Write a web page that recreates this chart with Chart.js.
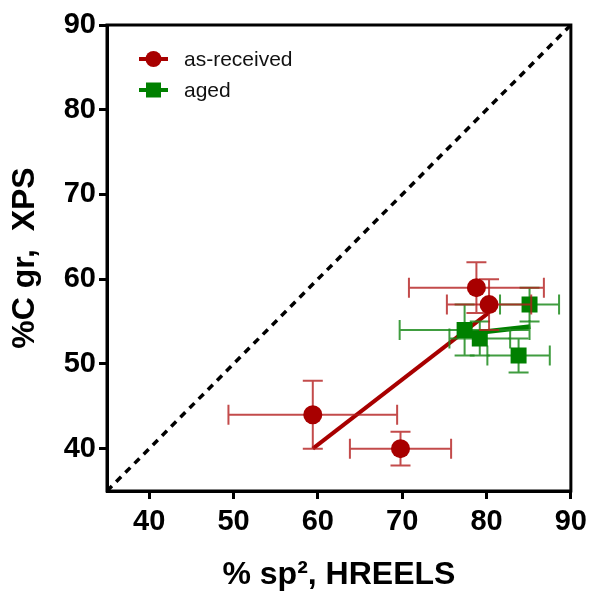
<!DOCTYPE html>
<html>
<head>
<meta charset="utf-8">
<script src="https://cdn.jsdelivr.net/npm/chart.js@4.4.1/dist/chart.umd.min.js"></script>
<style>
  html, body { margin: 0; padding: 0; background: #fff; }
  #wrap { width: 593px; height: 594px; }
</style>
</head>
<body>
<div id="wrap"><canvas id="chart" width="593" height="594"></canvas></div>
<script>
// data
const asX = [59.4, 69.8, 78.8, 80.3];
const asY = [44, 40, 59, 57];
const asXErr = [10, 6, 8, 5];
const asYErr = [4, 2, 3, 3];

const agedX = [77.4, 79.2, 85.1, 83.8];
const agedY = [54, 53, 57, 51];
const agedXErr = [7.7, 3.6, 3.5, 3.7];
const agedYErr = [3, 2, 2, 2];

const asFitX = [59.4, 80.2];
const asFitY = [40, 56];
const agedFitX = [77.2, 85.2];
const agedFitY = [53.5, 54.4];

const diagX = [35, 90];
const diagY = [35, 90];

const xTicks = [40, 50, 60, 70, 80, 90];
const yTicks = [40, 50, 60, 70, 80, 90];

const RED = "#a80000";
const GREEN = "#008000";

const pts = (xs, ys) => xs.map((x, i) => ({ x: x, y: ys[i] }));

// error bars, drawn just before each scatter dataset
const errorBars = {
  id: "errorBars",
  beforeDatasetDraw(chart, args) {
    const ds = chart.data.datasets[args.index];
    if (!ds.xErr) return;
    const { ctx, scales } = chart;
    const xs = scales.x, ys = scales.y;
    const cap = 10;
    ctx.save();
    ctx.strokeStyle = ds.errColor;
    ctx.lineWidth = 2;
    ds.data.forEach((p, i) => {
      const px = xs.getPixelForValue(p.x);
      const py = ys.getPixelForValue(p.y);
      const x0 = xs.getPixelForValue(p.x - ds.xErr[i]);
      const x1 = xs.getPixelForValue(p.x + ds.xErr[i]);
      const y0 = ys.getPixelForValue(p.y - ds.yErr[i]);
      const y1 = ys.getPixelForValue(p.y + ds.yErr[i]);
      ctx.beginPath();
      ctx.moveTo(x0, py); ctx.lineTo(x1, py);
      ctx.moveTo(x0, py - cap); ctx.lineTo(x0, py + cap);
      ctx.moveTo(x1, py - cap); ctx.lineTo(x1, py + cap);
      ctx.moveTo(px, y0); ctx.lineTo(px, y1);
      ctx.moveTo(px - cap, y0); ctx.lineTo(px + cap, y0);
      ctx.moveTo(px - cap, y1); ctx.lineTo(px + cap, y1);
      ctx.stroke();
    });
    ctx.restore();
  }
};

// box around plot + legend in the top-left corner
const frameLegend = {
  id: "frameLegend",
  afterDraw(chart) {
    const { ctx, chartArea: a } = chart;
    ctx.save();
    ctx.strokeStyle = "#000";
    ctx.lineWidth = 3;
    ctx.strokeRect(a.left, a.top, a.right - a.left, a.bottom - a.top);

    const items = [
      { label: "as-received", color: RED, style: "circle", y: 59 },
      { label: "aged", color: GREEN, style: "rect", y: 90 }
    ];
    ctx.font = "21px 'Liberation Sans', Arial, sans-serif";
    ctx.textBaseline = "middle";
    items.forEach(it => {
      ctx.strokeStyle = it.color;
      ctx.fillStyle = it.color;
      ctx.lineWidth = 4;
      ctx.beginPath();
      ctx.moveTo(139, it.y); ctx.lineTo(168, it.y);
      ctx.stroke();
      ctx.beginPath();
      if (it.style === "circle") ctx.arc(153.5, it.y, 8, 0, Math.PI * 2);
      else ctx.rect(146, it.y - 7.5, 15, 15);
      ctx.fill();
      ctx.fillStyle = "#111";
      ctx.fillText(it.label, 184, it.y + 1);
    });
    ctx.restore();
  }
};

const tickFont = { family: "'Liberation Sans', Arial, sans-serif", size: 29, weight: "bold" };
const titleFont = { family: "'Liberation Sans', Arial, sans-serif", size: 32, weight: "bold" };

new Chart(document.getElementById("chart"), {
  type: "scatter",
  data: {
    datasets: [
      {
        label: "as-received",
        data: pts(asX, asY),
        xErr: asXErr, yErr: asYErr,
        errColor: "rgba(180,30,30,0.8)",
        pointStyle: "circle",
        pointRadius: 9.5,
        backgroundColor: RED,
        borderColor: RED,
        borderWidth: 0
      },
      {
        label: "aged",
        data: pts(agedX, agedY),
        xErr: agedXErr, yErr: agedYErr,
        errColor: "rgba(30,140,30,0.85)",
        pointStyle: "rect",
        pointRadius: 11.3,
        backgroundColor: GREEN,
        borderColor: GREEN,
        borderWidth: 0
      },
      {
        label: "fit as-received",
        data: pts(asFitX, asFitY),
        showLine: true,
        pointRadius: 0,
        borderColor: RED,
        borderWidth: 4
      },
      {
        label: "fit aged",
        data: pts(agedFitX, agedFitY),
        showLine: true,
        pointRadius: 0,
        borderColor: GREEN,
        borderWidth: 5
      },
      {
        label: "y = x",
        data: pts(diagX, diagY),
        showLine: true,
        pointRadius: 0,
        borderColor: "#000",
        borderWidth: 3.5,
        borderDash: [7, 6]
      }
    ]
  },
  options: {
    responsive: false,
    animation: false,
    layout: { padding: { left: 0, top: 25, right: 20, bottom: 0 } },
    plugins: {
      legend: { display: false },
      tooltip: { enabled: false }
    },
    scales: {
      x: {
        type: "linear",
        min: 35, max: 90,
        afterBuildTicks: s => { s.ticks = xTicks.map(v => ({ value: v })); },
        afterFit: s => { s.height = 103; },
        grid: { drawOnChartArea: false, drawTicks: true, tickLength: 8, color: "#000", lineWidth: 3 },
        border: { display: true, color: "#000", width: 3 },
        ticks: { color: "#000", font: tickFont, padding: 6, maxRotation: 0 },
        title: { display: true, text: "% sp², HREELS", color: "#000", font: titleFont, padding: { top: 0, bottom: 0 } }
      },
      y: {
        type: "linear",
        min: 35, max: 90,
        afterBuildTicks: s => { s.ticks = yTicks.map(v => ({ value: v })); },
        afterFit: s => { s.width = 107; },
        grid: { drawOnChartArea: false, drawTicks: true, tickLength: 8, color: "#000", lineWidth: 3 },
        border: { display: true, color: "#000", width: 3 },
        ticks: { color: "#000", font: tickFont, padding: 3 },
        title: { display: true, text: "%C gr,  XPS", color: "#000", font: titleFont, padding: { top: 6, bottom: 0 } }
      }
    }
  },
  plugins: [errorBars, frameLegend]
});
</script>
</body>
</html>
